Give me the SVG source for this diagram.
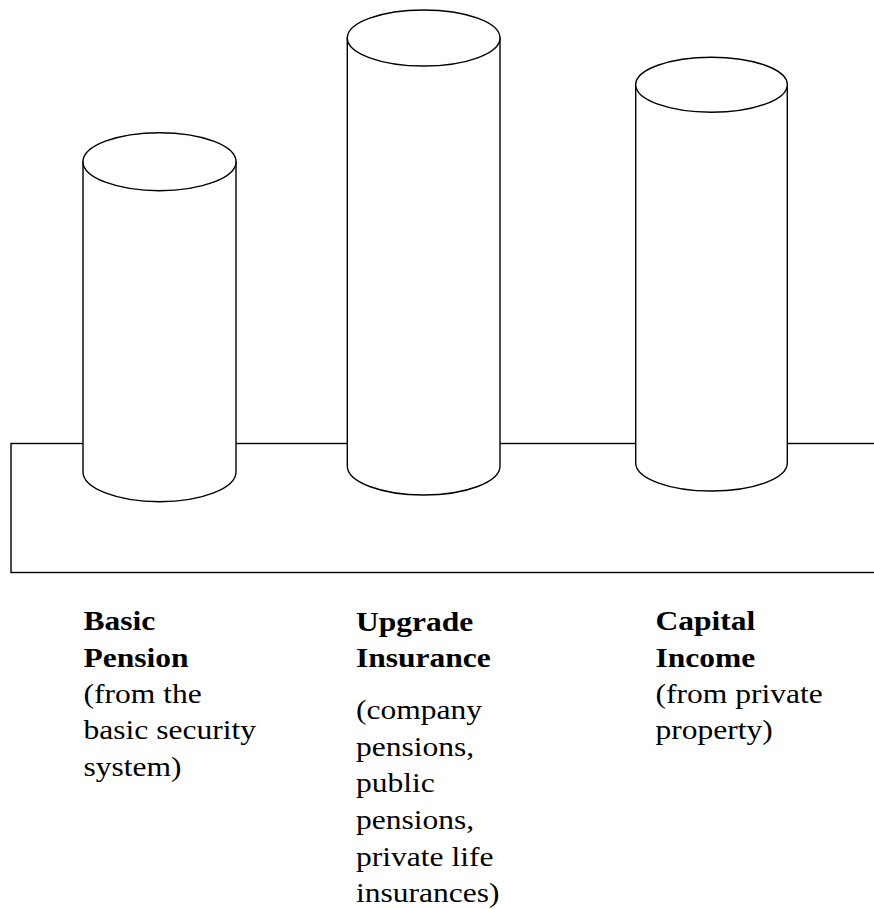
<svg xmlns="http://www.w3.org/2000/svg" width="874" height="909" viewBox="0 0 874 909">
<style>
.ln{fill:#fff;stroke:#000;stroke-width:1.4}
.t{font-family:"Liberation Serif","Times New Roman",serif;font-size:26.5px;fill:#000}
.b{font-weight:bold}
</style>
<rect width="874" height="909" fill="#fff"/>
<g id="base">
<rect class="ln" x="11" y="443.5" width="870" height="129"/>
</g>
<g id="cyl-basic">
<path class="ln" d="M83,161.7 L83,471.7 A76.5,30 0 0 0 236,471.7 L236,161.7 Z"/>
<ellipse class="ln" cx="159.5" cy="161.7" rx="76.5" ry="29"/>
</g>
<g id="cyl-upgrade">
<path class="ln" d="M347.3,38 L347.3,466 A76.35,29 0 0 0 500,466 L500,38 Z"/>
<ellipse class="ln" cx="423.65" cy="38" rx="76.35" ry="28"/>
</g>
<g id="cyl-capital">
<path class="ln" d="M635.7,84.7 L635.7,463 A75.8,28 0 0 0 787.3,463 L787.3,84.7 Z"/>
<ellipse class="ln" cx="711.5" cy="84.7" rx="75.8" ry="27.5"/>
</g>
<g id="connectors"></g>
<g id="label-basic" class="t" transform="translate(83.5,0) scale(1.19,1)">
<text class="b" x="0" y="630.5">Basic</text>
<text class="b" x="0" y="667">Pension</text>
<text x="0" y="703">(from the</text>
<text x="0" y="739.5">basic security</text>
<text x="0" y="776">system)</text>
</g>
<g id="label-upgrade" class="t" transform="translate(356,0) scale(1.19,1)">
<text class="b" x="0" y="631">Upgrade</text>
<text class="b" x="0" y="667.5">Insurance</text>
<text x="0" y="719">(company</text>
<text x="0" y="755.7">pensions,</text>
<text x="0" y="792.4">public</text>
<text x="0" y="829.1">pensions,</text>
<text x="0" y="865.8">private life</text>
<text x="0" y="902.5">insurances)</text>
</g>
<g id="label-capital" class="t" transform="translate(655.5,0) scale(1.19,1)">
<text class="b" x="0" y="630.5">Capital</text>
<text class="b" x="0" y="667">Income</text>
<text x="0" y="703">(from private</text>
<text x="0" y="739.5">property)</text>
</g>
</svg>
